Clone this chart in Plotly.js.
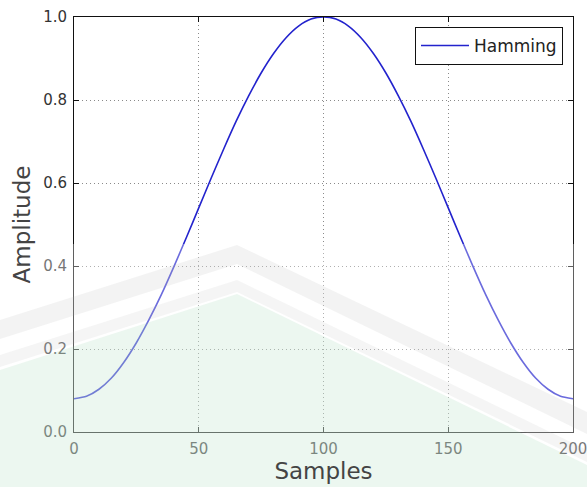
<!DOCTYPE html>
<html>
<head>
<meta charset="utf-8">
<script src="https://cdn.plot.ly/plotly-3.0.1.min.js"></script>
<style>html,body{margin:0;padding:0;background:#fff;}#chart{width:587px;height:487px;}</style>
</head>
<body>
<div id="chart"></div>
<script>
// Samples
const samples = [0,5,10,15,20,25,30,35,40,45,50,55,60,65,70,75,80,85,90,95,100,
  105,110,115,120,125,130,135,140,145,150,155,160,165,170,175,180,185,190,195,200];
const amplitude = [0.080,0.086,0.103,0.130,0.168,0.215,0.270,0.331,0.398,0.468,0.540,
  0.612,0.682,0.749,0.810,0.865,0.912,0.950,0.978,0.995,1.000,
  0.995,0.978,0.950,0.912,0.865,0.810,0.749,0.682,0.612,0.540,
  0.468,0.398,0.331,0.270,0.215,0.168,0.130,0.103,0.086,0.080];
const seriesName = "Hamming";
const xTicks = [0,50,100,150,200];
const yTicks = [0.0,0.2,0.4,0.6,0.8,1.0];

const W = 587, H = 487, ML = 74, MR = 14, MT = 17, MB = 55;
const pw = W - ML - MR, ph = H - MT - MB;
const px = v => (v - ML) / pw;
const py = v => (H - MB - v) / ph;
function poly(pts) {
  return pts.map((p, i) => (i ? "L" : "M") + px(p[0]).toFixed(4) + "," + py(p[1]).toFixed(4)).join(" ") + " Z";
}

const shapes = [
  {type: "rect", xref: "paper", yref: "paper", layer: "above",
   x0: px(0), x1: px(W), y0: py(244), y1: py(H),
   fillcolor: "rgba(255,255,255,0.33)", line: {width: 0}},
  {type: "path", xref: "paper", yref: "paper", layer: "above",
   path: poly([[0,320],[237,245],[587,412],[587,434],[237,264],[0,339]]),
   fillcolor: "rgba(170,170,170,0.14)", line: {width: 0}},
  {type: "path", xref: "paper", yref: "paper", layer: "above",
   path: poly([[0,355],[237,280],[587,450],[587,462],[237,292],[0,367]]),
   fillcolor: "rgba(170,170,170,0.12)", line: {width: 0}},
  {type: "path", xref: "paper", yref: "paper", layer: "above",
   path: poly([[0,370],[237,294],[587,465],[587,487],[0,487]]),
   fillcolor: "rgba(150,210,170,0.18)", line: {width: 0}}
];

const trace = {
  x: samples, y: amplitude, name: seriesName, type: "scatter", mode: "lines",
  line: {color: "rgb(35,35,205)", width: 1.6, shape: "spline", smoothing: 0.6}
};

const axisCommon = {
  showline: true, linecolor: "#111", linewidth: 1, mirror: "ticks",
  ticks: "inside", ticklen: 5, tickcolor: "#111", tickwidth: 1,
  showgrid: true, gridcolor: "#8a8a8a", griddash: "1px,3px", gridwidth: 1,
  zeroline: false, ticklabeloverflow: "allow",
  tickfont: {family: "DejaVu Sans", size: 15, color: "#333"}
};

const layout = {
  width: W, height: H,
  margin: {l: ML, r: MR, t: MT, b: MB, pad: 0},
  paper_bgcolor: "#fff", plot_bgcolor: "#fff",
  showlegend: true,
  legend: {x: px(563), xanchor: "right", y: py(27), yanchor: "top",
    bgcolor: "#fff", bordercolor: "#111", borderwidth: 1, itemwidth: 48,
    font: {family: "DejaVu Sans", size: 17, color: "#222"}},
  xaxis: Object.assign({}, axisCommon, {
    range: [0, 200], tickvals: xTicks, ticktext: xTicks.map(String),
    ticklabelstandoff: 3,
    title: {text: "Samples", font: {family: "DejaVu Sans", size: 23, color: "#444"}, standoff: 4}
  }),
  yaxis: Object.assign({}, axisCommon, {
    range: [0, 1], tickvals: yTicks, ticktext: yTicks.map(v => v.toFixed(1)),
    ticklabelstandoff: 3,
    title: {text: "Amplitude", font: {family: "DejaVu Sans", size: 23, color: "#444"}, standoff: 6}
  }),
  shapes: shapes
};

Plotly.newPlot("chart", [trace], layout, {displayModeBar: false, staticPlot: true});
</script>
</body>
</html>
